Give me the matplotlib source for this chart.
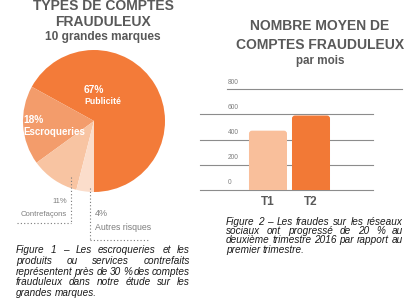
import matplotlib
matplotlib.use("Agg")
import matplotlib.pyplot as plt
from matplotlib.patches import FancyBboxPatch
import matplotlib.transforms as mtrans

plt.rcParams['font.family'] = ['Liberation Sans', 'DejaVu Sans']

# pie data
pie_names = ["Publicité", "Escroqueries", "Contrefaçons", "Autres risques"]
pie_values = [67, 18, 11, 4]
pie_colors = ["#F37B39", "#F39C6B", "#F8C4A2", "#FBDDCB"]

# bar data
bar_cats = ["T1", "T2"]
bar_values = [470, 590]
bar_colors = ["#F9BF9B", "#F27936"]
y_ticks = [0, 200, 400, 600, 800]

caption1 = ["Figure 1 – Les escroqueries et les",
            "produits ou services contrefaits",
            "représentent près de 30 % des comptes",
            "frauduleux dans notre étude sur les",
            "grandes marques."]
caption2 = ["Figure 2 – Les fraudes sur les réseaux",
            "sociaux ont progressé de 20 % au",
            "deuxième trimestre 2016 par rapport au",
            "premier trimestre."]

W, H = 418, 300
TITLE = "#595959"
GREY = "#7f7f7f"

fig = plt.figure(figsize=(W / 100, H / 100), dpi=100)
fig.patch.set_facecolor("white")


def box(l, t, r, b):
    # pixel box -> figure fraction
    return [l / W, 1 - b / H, (r - l) / W, (b - t) / H]


# ---- pie ----
cx, cy, rad = 94, 121, 71
axp = fig.add_axes(box(cx - rad, cy - rad, cx + rad, cy + rad))
axp.pie(pie_values, colors=pie_colors, startangle=-90, counterclock=True,
        wedgeprops=dict(linewidth=0))
axp.set_xlim(-1, 1)
axp.set_ylim(-1, 1)
axp.axis("off")


def pd(px, py):
    return (px - cx) / rad, (cy - py) / rad


axp.text(*pd(83.5, 90), f"{pie_values[0]}%", color="white", fontsize=7.3,
         fontweight="bold", ha="left", va="center")
axp.text(*pd(84, 102), pie_names[0], color="white", fontsize=6.3,
         fontweight="bold", ha="left", va="center")
axp.text(*pd(23, 120), f"{pie_values[1]}%", color="white", fontsize=7.3,
         fontweight="bold", ha="left", va="center")
axp.text(*pd(23, 132), pie_names[1], color="white", fontsize=7,
         fontweight="bold", ha="left", va="center")

# ---- bars ----
axb = fig.add_axes(box(200, 89, 402, 190))
x = list(range(len(bar_cats)))
bars = axb.bar(x, bar_values, width=0.884, color=bar_colors, zorder=3)
axb.set_xlim(-1.581, 3.116)
axb.set_ylim(0, 800)
axb.axis("off")

for v in y_ticks:
    if v == 800:
        axb.axhline(v, xmin=27 / 202, xmax=1, color="#8c8c8c", lw=0.8,
                    clip_on=False, zorder=1)
    else:
        axb.axhline(v, xmin=0, xmax=173 / 202, color="#8c8c8c", lw=0.8,
                    clip_on=False, zorder=1)

tr = mtrans.offset_copy(axb.get_yaxis_transform(), fig=fig, y=7, units="dots")
for v in y_ticks:
    axb.text(28 / 202, v, str(v), transform=tr, fontsize=4.8, color=GREY,
             ha="left", va="center")

# rounded tops
pxx = 202 / (3.116 + 1.581)
pxy = 101 / 800
asp = pxx / pxy
for rect, c in zip(bars, bar_colors):
    rect.set_visible(False)
    bx, bw, bh = rect.get_x(), rect.get_width(), rect.get_height()
    fb = FancyBboxPatch((bx, -80), bw, bh + 80,
                        boxstyle="round,pad=0,rounding_size=%f" % (3 / pxx),
                        mutation_aspect=asp, fc=c, ec="none", zorder=3)
    axb.add_patch(fb)

for xi, name in zip(x, bar_cats):
    axb.text(xi, 0, name, transform=mtrans.offset_copy(
        axb.transData, fig=fig, y=-12, units="dots"),
        fontsize=8.5, fontweight="bold", color=TITLE, ha="center", va="center")

# ---- overlay in pixel coords for titles, leaders, captions ----
ov = fig.add_axes([0, 0, 1, 1])
ov.set_xlim(0, W)
ov.set_ylim(H, 0)
ov.axis("off")
ov.patch.set_alpha(0)

ov.text(103, 6, "TYPES DE COMPTES", fontsize=10, fontweight="bold",
        color=TITLE, ha="center", va="center")
ov.text(103, 22, "FRAUDULEUX", fontsize=10, fontweight="bold",
        color=TITLE, ha="center", va="center")
ov.text(103, 37, "10 grandes marques", fontsize=8.6, fontweight="bold",
        color=TITLE, ha="center", va="center")

ov.text(320, 26, "NOMBRE MOYEN DE", fontsize=10, fontweight="bold",
        color=TITLE, ha="center", va="center")
ov.text(320, 45, "COMPTES FRAUDULEUX", fontsize=10, fontweight="bold",
        color=TITLE, ha="center", va="center")
ov.text(320, 61, "par mois", fontsize=8.4, fontweight="bold",
        color=TITLE, ha="center", va="center")

dot = dict(color="#7a7a7a", lw=0.8, linestyle=(0, (1, 2)))
ov.plot([70.5, 70.5], [177, 223], **dot)
ov.plot([17, 70.5], [223, 223], **dot)
ov.plot([90, 90], [188, 240], **dot)
ov.plot([90, 150], [240, 240], **dot)

ov.text(67, 201.5, f"{pie_values[2]}%", fontsize=5.5, color=GREY,
        ha="right", va="center")
ov.text(67, 214.5, pie_names[2], fontsize=5.6, color=GREY,
        ha="right", va="center")
ov.text(95, 213, f"{pie_values[3]}%", fontsize=6.5, color=GREY,
        ha="left", va="center")
ov.text(95, 227, pie_names[3], fontsize=6.3, color=GREY,
        ha="left", va="center")

renderer = fig.canvas.get_renderer()


def justify(lines, left, right, top, step, size):
    # fully justified paragraph, last line left aligned
    probe = ov.text(0, 0, "a a", fontsize=size, style="italic")
    probe2 = ov.text(0, 0, "aa", fontsize=size, style="italic")
    space = probe.get_window_extent(renderer).width - \
        probe2.get_window_extent(renderer).width
    probe.remove()
    probe2.remove()
    for i, line in enumerate(lines):
        yy = top + i * step
        words = line.split(" ")
        texts = [ov.text(0, yy, w, fontsize=size, style="italic",
                         color="#1a1a1a", ha="left", va="center")
                 for w in words]
        widths = [t.get_window_extent(renderer).width for t in texts]
        if i == len(lines) - 1:
            gap = space
        else:
            gap = (right - left - sum(widths)) / (len(words) - 1)
        pos = left
        for t, w in zip(texts, widths):
            t.set_x(pos)
            pos += w + gap


justify(caption1, 16, 190, 250, 10.8, 7.2)
justify(caption2, 226, 403, 222, 9.2, 7.2)

fig.savefig("out.png", dpi=100)
